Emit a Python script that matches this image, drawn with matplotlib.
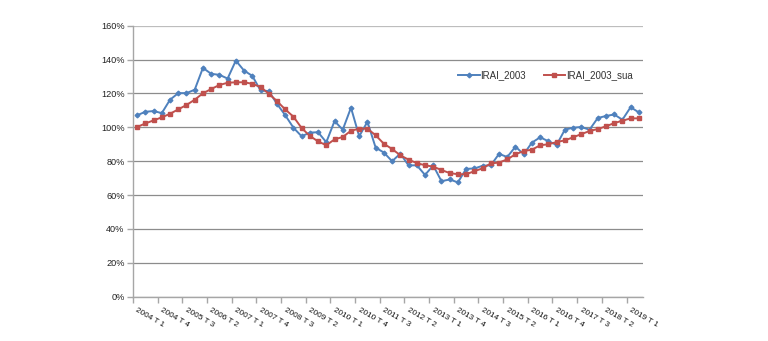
import numpy as np
import matplotlib
matplotlib.use('Agg')
import matplotlib.pyplot as plt
from matplotlib.ticker import PercentFormatter, FixedLocator

plt.rcParams['font.family'] = ['Liberation Sans', 'DejaVu Sans']

# quarters 2004 T1 .. 2019 T2
quarters = ['%d T %d' % (2004 + q // 4, q % 4 + 1) for q in range(62)]

irai_2003 = [107.1, 109.2, 109.6, 108.4, 116.3, 120.2, 120.2, 122.2, 135.1, 131.6,
             131.0, 128.8, 139.4, 133.5, 130.4, 121.8, 121.4, 113.9, 107.2, 99.8,
             94.7, 96.9, 97.1, 91.2, 103.7, 98.6, 111.6, 94.7, 103.3, 88.0,
             85.1, 80.0, 84.5, 77.5, 77.6, 71.9, 77.5, 68.2, 69.2, 67.5,
             75.5, 75.7, 77.3, 77.6, 84.3, 82.5, 88.6, 84.1, 91.0, 94.1,
             91.8, 89.6, 98.6, 99.8, 100.2, 98.6, 105.5, 106.7, 107.6, 104.5,
             111.9, 108.8]

irai_2003_sua = [100.2, 102.3, 104.1, 105.9, 108.0, 110.6, 113.2, 116.3, 120.1, 122.6,
                 125.0, 126.3, 126.6, 126.6, 125.7, 123.8, 119.9, 115.5, 110.6, 106.3,
                 99.6, 94.9, 91.7, 89.4, 92.9, 94.3, 98.0, 99.2, 99.2, 95.3,
                 90.3, 87.2, 83.5, 80.9, 78.9, 77.6, 76.8, 74.8, 73.0, 72.3,
                 72.3, 74.1, 75.8, 78.7, 79.2, 81.1, 84.1, 86.0, 86.8, 89.4,
                 90.0, 91.3, 92.3, 94.1, 96.0, 97.8, 99.0, 100.6, 102.5, 103.9,
                 105.3, 105.3]

blue = '#4F81BD'
red = '#C0504D'
axis_col = '#A6A6A6'

fig = plt.figure(figsize=(7.68, 3.41), dpi=100)
ax = fig.add_axes([0.1732, 0.1299, 0.6640, 0.7947])

x = np.arange(len(quarters))
ax.plot(x, np.array(irai_2003) / 100, color=blue, lw=1.4, marker='D', ms=2.4,
        label='IRAI_2003')
ax.plot(x, np.array(irai_2003_sua) / 100, color=red, lw=1.4, marker='s', ms=3.0,
        label='IRAI_2003_sua')

ax.set_xlim(-0.5, len(quarters) - 0.5)
ax.set_ylim(0, 1.6)
ax.set_yticks(np.arange(0, 1.61, 0.2))
ax.yaxis.set_major_formatter(PercentFormatter(1.0, decimals=0))
ax.yaxis.grid(True, color='#8C8C8C', lw=0.9)
ax.set_axisbelow(True)
# top gridline is drawn lighter
ax.get_ygridlines()[-1].set_color('#BDBDBD')

# category boundaries every 3 quarters, labels on every third quarter
ax.xaxis.set_major_locator(FixedLocator(np.arange(-0.5, len(quarters), 3)))
ax.set_xticklabels([])
for i in range(0, len(quarters), 3):
    ax.text(i + 0.1, -0.035, quarters[i], rotation=-30, ha='left', va='top',
            rotation_mode='anchor', fontsize=5.9, color='#111111',
            transform=ax.get_xaxis_transform())

for s in ['top', 'right']:
    ax.spines[s].set_visible(False)
for s in ['left', 'bottom']:
    ax.spines[s].set_color(axis_col)
    ax.spines[s].set_linewidth(1.0)
ax.tick_params(axis='both', colors=axis_col, length=4, width=1.0)
ax.tick_params(axis='y', labelcolor='#222222', labelsize=6.6, pad=2)

ax.legend(loc='center left', bbox_to_anchor=(0.628, 0.818), frameon=False,
          ncol=2, fontsize=7, handlelength=2.2, columnspacing=1.8,
          handletextpad=0.1, borderpad=0, labelcolor='#333333')

fig.savefig('out.png', dpi=100)
